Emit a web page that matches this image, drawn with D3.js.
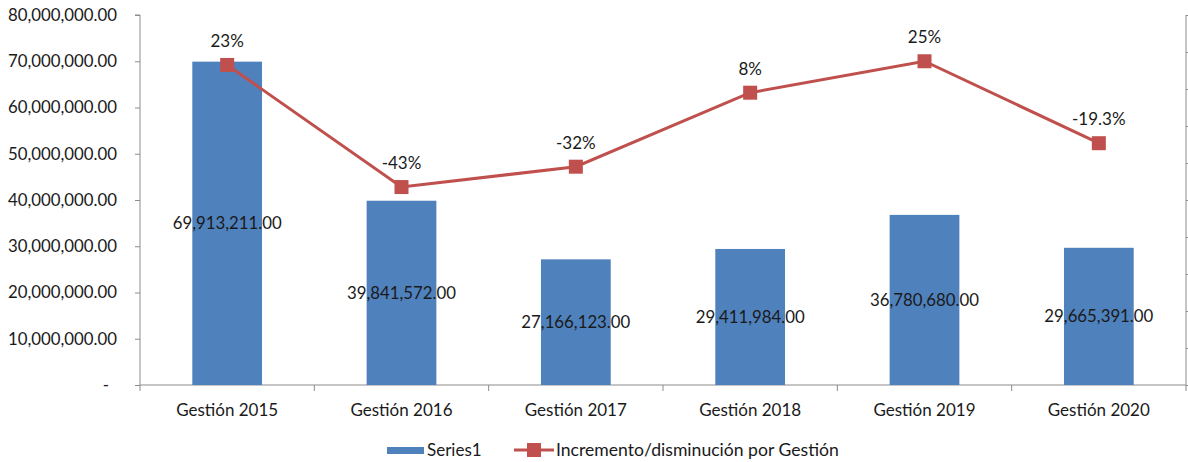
<!DOCTYPE html>
<html>
<head>
<meta charset="utf-8">
<script src="https://cdn.jsdelivr.net/npm/d3@7"></script>
<style>
  body { margin: 0; background: #fff; }
  text { font-family: Lato, "Open Sans", sans-serif; fill: #1a1a1a; }
</style>
</head>
<body>
<div id="chart"></div>
<script>
var categories = ["Gestión 2015", "Gestión 2016", "Gestión 2017", "Gestión 2018", "Gestión 2019", "Gestión 2020"];
var amounts = [69913211, 39841572, 27166123, 29411984, 36780680, 29665391];
var changes = [0.23, -0.43, -0.32, 0.08, 0.25, -0.193];
var changeLabels = ["23%", "-43%", "-32%", "8%", "25%", "-19.3%"];
var leftTicks = [0, 10e6, 20e6, 30e6, 40e6, 50e6, 60e6, 70e6, 80e6];
var rightTicks = [-1.5, -1.3, -1.1, -0.9, -0.7, -0.5, -0.3, -0.1, 0.1, 0.3, 0.5];

var w = 1188, h = 462;
var plotLeft = 140, plotRight = 1186, plotTop = 15, plotBottom = 385;
var barColor = "#4f81bd", lineColor = "#c0504d", axisColor = "#8c8c8c";
var fs = "16.5px", fsText = "17px";

var svg = d3.select("#chart").append("svg").attr("width", w).attr("height", h);

var x = d3.scaleBand().domain(categories).range([plotLeft, plotRight])
    .paddingInner(0.6).paddingOuter(0.3);
var y = d3.scaleLinear().domain([0, 80e6]).range([plotBottom, plotTop]);
var y2 = d3.scaleLinear().domain([-1.5, 0.5]).range([plotBottom, plotTop]);

var fmt = d3.format(",.2f");

// left axis
var yAxis = d3.axisLeft(y).tickValues(leftTicks).tickSize(5).tickPadding(18)
    .tickFormat(function (d) { return d === 0 ? "-" : fmt(d); });
var gy = svg.append("g").attr("transform", "translate(" + plotLeft + ",0)").call(yAxis);
gy.select(".domain").attr("stroke", axisColor).attr("d", "M-5," + plotTop + "H0V" + plotBottom);
gy.selectAll(".tick line").attr("stroke", axisColor);
gy.selectAll(".tick text").style("font-size", "16.8px").style("font-family", "Lato, sans-serif").attr("fill", "#1a1a1a");
gy.selectAll(".tick").filter(function (d) { return d === 0; }).select("text").attr("dx", -8);

// right axis (no labels)
var y2Axis = d3.axisRight(y2).tickValues(rightTicks).tickSize(5).tickFormat("");
var gy2 = svg.append("g").attr("transform", "translate(" + plotRight + ",0)").call(y2Axis);
gy2.select(".domain").attr("stroke", axisColor).attr("d", "M0," + plotTop + "V" + plotBottom);
gy2.selectAll(".tick line").attr("stroke", axisColor);

// bottom axis
var gx = svg.append("g").attr("transform", "translate(0," + plotBottom + ")");
gx.append("line").attr("x1", plotLeft).attr("x2", plotRight).attr("stroke", axisColor);
var step = x.step();
gx.selectAll(".sep").data(d3.range(categories.length + 1)).join("line")
    .attr("x1", function (i) { return plotLeft + i * step; })
    .attr("x2", function (i) { return plotLeft + i * step; })
    .attr("y1", 0).attr("y2", 6).attr("stroke", axisColor);
gx.selectAll(".lab").data(categories).join("text")
    .attr("x", function (d) { return x(d) + x.bandwidth() / 2; })
    .attr("y", 31).attr("text-anchor", "middle").style("font-size", fsText)
    .text(function (d) { return d; });

// bars
svg.selectAll(".bar").data(amounts).join("rect")
    .attr("x", function (d, i) { return x(categories[i]); })
    .attr("width", x.bandwidth())
    .attr("y", function (d) { return y(d); })
    .attr("height", function (d) { return plotBottom - y(d); })
    .attr("fill", barColor);

svg.selectAll(".barlab").data(amounts).join("text")
    .attr("x", function (d, i) { return x(categories[i]) + x.bandwidth() / 2; })
    .attr("y", function (d) { return (y(d) + plotBottom) / 2 + 6; })
    .attr("text-anchor", "middle").style("font-size", "16.8px")
    .text(function (d) { return fmt(d); });

// line
var cx = function (d, i) { return x(categories[i]) + x.bandwidth() / 2; };
var line = d3.line().x(cx).y(function (d) { return y2(d); });
svg.append("path").datum(changes).attr("d", line)
    .attr("fill", "none").attr("stroke", lineColor).attr("stroke-width", 3);
svg.selectAll(".mk").data(changes).join("rect")
    .attr("x", function (d, i) { return cx(d, i) - 7; })
    .attr("y", function (d) { return y2(d) - 7; })
    .attr("width", 14).attr("height", 14).attr("fill", lineColor);
svg.selectAll(".pl").data(changes).join("text")
    .attr("x", cx).attr("y", function (d) { return y2(d) - 18; })
    .attr("text-anchor", "middle").style("font-size", fsText)
    .text(function (d, i) { return changeLabels[i]; });

// legend
var lg = svg.append("g").attr("transform", "translate(0,450)");
lg.append("rect").attr("x", 387).attr("y", -3).attr("width", 37).attr("height", 7).attr("fill", barColor);
lg.append("text").attr("x", 427).attr("y", 6).style("font-size", fsText).text("Series1");
lg.append("line").attr("x1", 514).attr("x2", 554).attr("y1", 0).attr("y2", 0)
    .attr("stroke", lineColor).attr("stroke-width", 3);
lg.append("rect").attr("x", 527).attr("y", -7).attr("width", 14).attr("height", 14).attr("fill", lineColor);
lg.append("text").attr("x", 556).attr("y", 6).style("font-size", "17.6px").text("Incremento/disminución por Gestión");
</script>
</body>
</html>
